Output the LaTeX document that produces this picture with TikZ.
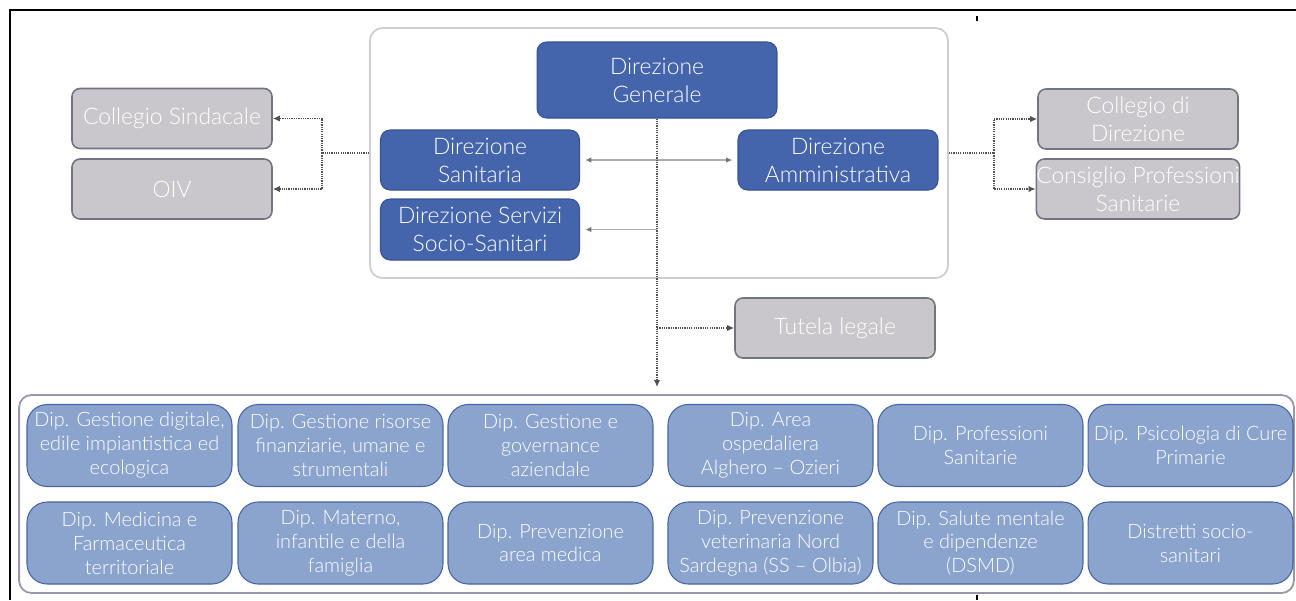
\documentclass[tikz,border=0pt]{standalone}
\usepackage{fontspec}
\IfFontExistsTF{Lato Light}{\setmainfont{Lato Light}}{\setmainfont{Lato}}
\usetikzlibrary{arrows.meta}
\definecolor{dblue}{RGB}{68,100,172}
\definecolor{dblueb}{RGB}{55,82,150}
\definecolor{lblue}{RGB}{139,164,205}
\definecolor{lblueb}{RGB}{72,100,165}
\definecolor{gbox}{RGB}{201,199,203}
\definecolor{gboxb}{RGB}{115,115,132}
\definecolor{contc}{RGB}{205,205,212}
\definecolor{contb}{RGB}{150,150,172}
\definecolor{dline}{RGB}{80,80,85}
\definecolor{lline}{RGB}{170,170,185}
\begin{document}
\begin{tikzpicture}[x=0.02cm,y=-0.02cm,
  dirbox/.style={draw=dblueb, line width=0.6pt, fill=dblue, rounded corners=5.5pt, text=white, align=center, inner sep=0pt, font=\fontsize{13}{15.9}\selectfont},
  greybox/.style={draw=gboxb, line width=0.9pt, fill=gbox, rounded corners=4.5pt, text=white, align=center, inner sep=0pt, minimum width=4cm, minimum height=1.2cm, font=\fontsize{13}{15.9}\selectfont},
  depbox/.style={draw=lblueb, line width=0.6pt, fill=lblue, rounded corners=11.5pt, text=white, align=center, inner sep=0pt, minimum width=4.1cm, minimum height=1.64cm, font=\fontsize{11.3}{13.6}\selectfont},
  contbox/.style={draw=contc, line width=1pt, fill=white, rounded corners=7pt, inner sep=0pt},
  dotline/.style={draw=dline, line width=1.1pt, dash pattern=on 0.7pt off 0.6pt},
  thinline/.style={draw=lline, line width=0.6pt},
  tip/.style={-{Latex[length=4pt,width=3.6pt]}},
  tipg/.style={-{Latex[length=3.5pt,width=3.2pt,color=lline!70!black]}},
]
\useasboundingbox (0,0) rectangle (1296,600);
\fill[white] (0,0) rectangle (1296,600);
% frame
\draw[line width=1.1pt] (10,600) -- (10,10) -- (1296,10);
\draw[line width=0.6pt] (977,16) -- (977,21);
\draw[line width=0.6pt] (977,595) -- (977,600);

% containers
\node[contbox, minimum width=11.56cm, minimum height=5cm] (top) at (659,153) {};
\node[contbox, draw=contb, minimum width=25.5cm, minimum height=3.96cm] (bot) at (656.5,494) {};

% direction boxes
\node[dirbox, minimum width=4.8cm, minimum height=1.52cm] (dg) at (657,80) {Direzione\\Generale};
\node[dirbox, minimum width=3.98cm, minimum height=1.2cm] (ds) at (480,160) {Direzione\\Sanitaria};
\node[dirbox, minimum width=4cm, minimum height=1.2cm] (da) at (838,160) {Direzione\\Amministrativa};
\node[dirbox, minimum width=3.98cm, minimum height=1.22cm] (dss) at (480,229.5) {Direzione Servizi\\Socio-Sanitari};

% grey boxes
\node[greybox] (cs) at (172,118.5) {Collegio Sindacale};
\node[greybox] (oiv) at (172,189) {OIV};
\node[greybox] (cd) at (1138,119) {Collegio di\\Direzione};
\node[greybox] (cps) at (1138,189) {Consiglio Professioni\\Sanitarie};
\node[greybox] (tl) at (835,328) {Tutela legale};

% departments
\node[depbox] (d1) at (129.5,445.5) {Dip. Gestione digitale,\\edile impiantistica ed\\ecologica};
\node[depbox] (d2) at (340.5,445.5) {Dip. Gestione risorse\\finanziarie, umane e\\strumentali};
\node[depbox] (d3) at (550.5,445.5) {Dip. Gestione e\\governance\\aziendale};
\node[depbox] (d4) at (770.5,445.5) {Dip. Area\\ospedaliera\\Alghero – Ozieri};
\node[depbox] (d5) at (980.5,445.5) {Dip. Professioni\\Sanitarie};
\node[depbox] (d6) at (1190.5,445.5) {Dip. Psicologia di Cure\\Primarie};
\node[depbox] (e1) at (129.5,543) {Dip. Medicina e\\Farmaceutica\\territoriale};
\node[depbox] (e2) at (340.5,543) {Dip. Materno,\\infantile e della\\famiglia};
\node[depbox] (e3) at (550.5,543) {Dip. Prevenzione\\area medica};
\node[depbox] (e4) at (770.5,543) {Dip. Prevenzione\\veterinaria Nord\\Sardegna (SS – Olbia)};
\node[depbox] (e5) at (980.5,543) {Dip. Salute mentale\\e dipendenze\\(DSMD)};
\node[depbox] (e6) at (1190.5,543) {Distretti socio-\\sanitari};

% left connectors
\draw[dotline] (top.west) -- ++(-47,0) coordinate (lj);
\draw[dotline, tip] (lj) |- (cs.east);
\draw[dotline, tip] (lj) |- (oiv.east);
% right connectors
\draw[dotline] (top.east) -- ++(45,0) coordinate (rj);
\draw[dotline, tip] (rj) |- (cd.west);
\draw[dotline, tip] (rj) |- (cps.west);

% sanitaria - amministrativa
\draw[thinline, tipg, shorten >=3pt] (dg.south |- ds.east) -- (ds.east);
\draw[thinline, tipg, shorten >=3pt] (dg.south |- da.west) -- (da.west);
% servizi socio-sanitari
\draw[thinline, tipg, shorten >=3pt] (dg.south |- dss.east) -- (dss.east);

% main vertical
\draw[dotline, tip, shorten >=4pt] (dg.south) -- (dg.south |- bot.north);
% tutela legale
\draw[dotline, tip] (dg.south |- tl.west) -- (tl.west);
\end{tikzpicture}
\end{document}
